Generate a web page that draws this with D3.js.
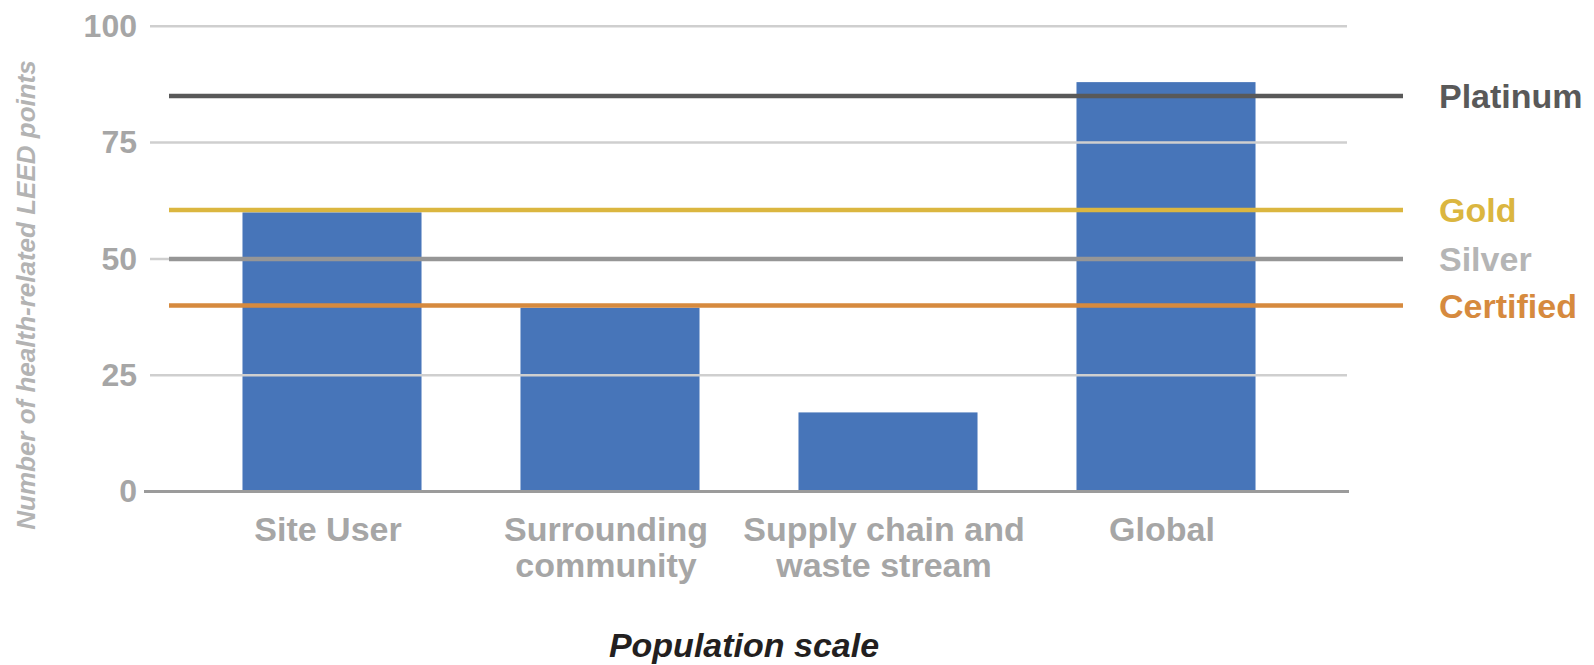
<!DOCTYPE html>
<html>
<head>
<meta charset="utf-8">
<script src="https://cdn.jsdelivr.net/npm/d3@7"></script>
<style>
  body { margin: 0; background: #fff; }
  svg text { font-family: "Liberation Sans", Arial, Helvetica, sans-serif; font-weight: bold; }
</style>
</head>
<body>
<div id="chart"></div>
<script>
// data
const categories = [["Site User"], ["Surrounding", "community"], ["Supply chain and", "waste stream"], ["Global"]];
const points = [60, 39.5, 17, 88];
const levels = ["Platinum", "Gold", "Silver", "Certified"];
const levelValues = [85, 60.5, 50, 40];
const yTicks = [0, 25, 50, 75, 100];

const width = 1594, height = 665;
const lineColors = ["#595959", "#dbb640", "#969696", "#d68a3e"];
const labelColors = ["#595959", "#dbb640", "#b5b5b5", "#d68a3e"];

const svg = d3.select("#chart")
  .append("svg")
  .attr("width", width)
  .attr("height", height);

const y = d3.scaleLinear().domain([0, 100]).range([491.5, 26.3]);

const x = d3.scaleBand()
  .domain(categories.map((d, i) => i))
  .range([193, 1305])
  .paddingInner(0.356)
  .paddingOuter(0.178);

//gridlines (drawn later on top of the bars)
const grid = svg.append("g");

//bars
svg.selectAll(".bar")
  .data(points)
  .enter()
  .append("rect")
  .attr("class", "bar")
  .attr("x", (d, i) => x(i))
  .attr("y", d => y(d))
  .attr("width", x.bandwidth())
  .attr("height", d => y(0) - y(d))
  .attr("fill", "#4775b9");

grid.raise();
grid.selectAll("line")
  .data(yTicks.filter(d => d > 0))
  .enter()
  .append("line")
  .attr("x1", 150)
  .attr("x2", 1347)
  .attr("y1", d => y(d))
  .attr("y2", d => y(d))
  .attr("stroke", "#cfcfcf")
  .attr("stroke-width", 2.5);

//baseline
svg.append("line")
  .attr("x1", 144)
  .attr("x2", 1349)
  .attr("y1", y(0))
  .attr("y2", y(0))
  .attr("stroke", "#9b9b9b")
  .attr("stroke-width", 3);

//y tick labels
const yAxis = svg.append("g")
  .attr("transform", "translate(137,0)")
  .call(d3.axisLeft(y).tickValues(yTicks).tickSize(0).tickPadding(0));
yAxis.select(".domain").remove();
yAxis.selectAll("text")
  .attr("fill", "#a6a6a6")
  .style("font-size", "32px")
  .style("font-family", "'Liberation Sans', Arial, sans-serif")
  .style("font-weight", "bold");

//LEED level lines
svg.selectAll(".level")
  .data(levelValues)
  .enter()
  .append("line")
  .attr("class", "level")
  .attr("x1", 169)
  .attr("x2", 1403)
  .attr("y1", d => y(d))
  .attr("y2", d => y(d))
  .attr("stroke", (d, i) => lineColors[i])
  .attr("stroke-width", 4.5);

svg.selectAll(".levelLabel")
  .data(levelValues)
  .enter()
  .append("text")
  .attr("class", "levelLabel")
  .attr("x", 1439)
  .attr("y", d => y(d))
  .attr("dy", "0.36em")
  .attr("fill", (d, i) => labelColors[i])
  .style("font-size", "34px")
  .text((d, i) => levels[i]);

//category labels
const cat = svg.selectAll(".cat")
  .data(categories)
  .enter()
  .append("text")
  .attr("class", "cat")
  .attr("x", (d, i) => x(i) + x.bandwidth() / 2 - 4)
  .attr("y", 541)
  .attr("text-anchor", "middle")
  .attr("fill", "#a6a6a6")
  .style("font-size", "34px");
cat.selectAll("tspan")
  .data(d => d)
  .enter()
  .append("tspan")
  .attr("x", function () { return d3.select(this.parentNode).attr("x"); })
  .attr("dy", (d, i) => i === 0 ? 0 : 36)
  .text(d => d);

//axis titles
svg.append("text")
  .attr("transform", "translate(35,295) rotate(-90)")
  .attr("text-anchor", "middle")
  .attr("fill", "#b3b3b3")
  .style("font-size", "26px")
  .style("font-style", "italic")
  .text("Number of health-related LEED points");

svg.append("text")
  .attr("x", 744)
  .attr("y", 657)
  .attr("text-anchor", "middle")
  .attr("fill", "#231f20")
  .style("font-size", "34px")
  .style("font-style", "italic")
  .text("Population scale");
</script>
</body>
</html>
